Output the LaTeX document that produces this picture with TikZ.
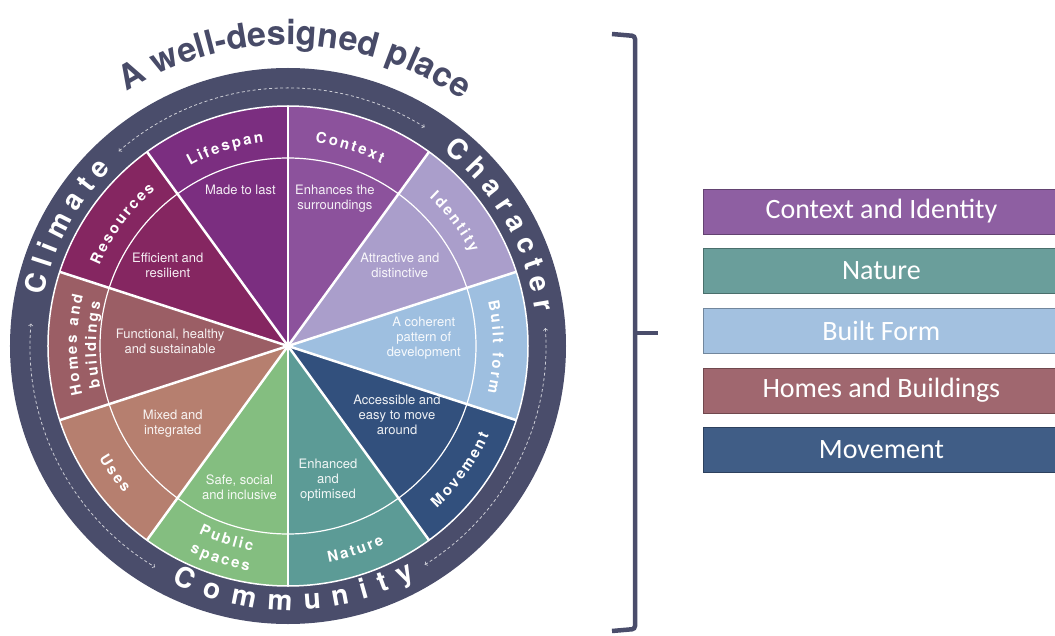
\documentclass[tikz,border=0pt]{standalone}
\usepackage{fontspec}
\setmainfont{TeX Gyre Heros}
\newfontfamily\legendfont{Carlito}
\usetikzlibrary{arrows,decorations.text}

\definecolor{ringc}{RGB}{74,77,107}
\definecolor{titlec}{RGB}{72,75,104}
\definecolor{lifespanc}{RGB}{123,46,128}
\definecolor{contextc}{RGB}{140,82,156}
\definecolor{identityc}{RGB}{170,158,203}
\definecolor{builtc}{RGB}{158,191,224}
\definecolor{movementc}{RGB}{50,80,125}
\definecolor{naturec}{RGB}{92,155,150}
\definecolor{publicc}{RGB}{132,190,128}
\definecolor{usesc}{RGB}{182,127,111}
\definecolor{homesc}{RGB}{155,94,101}
\definecolor{resourcesc}{RGB}{133,38,97}
\definecolor{ctxleg}{RGB}{142,95,162}
\definecolor{natleg}{RGB}{106,158,155}
\definecolor{bltleg}{RGB}{163,193,224}
\definecolor{homleg}{RGB}{160,103,111}
\definecolor{movleg}{RGB}{64,93,134}

\newcommand{\titletxt}{\fontsize{34}{34}\selectfont\bfseries}
\newcommand{\ringtxt}{\fontsize{28}{28}\selectfont\bfseries\kern7.5pt}
\newcommand{\commtxt}{\fontsize{28}{28}\selectfont\bfseries\kern12.5pt}
\newcommand{\lbltxt}{\fontsize{15}{15}\selectfont\bfseries\kern2.3pt}

\begin{document}
\begin{tikzpicture}[x=1pt,y=1pt,
  spoke/.style={draw=white,line width=2.5pt},
  desc/.style={text=white,text opacity=0.92,align=center,inner sep=0pt,font=\fontsize{13}{15}\selectfont},
  legbox/.style={anchor=west,minimum width=356pt,minimum height=45pt,inner sep=0pt,fill=#1,draw=#1!70!black,line width=0.8pt,text=white,font=\legendfont\fontsize{28}{28}\selectfont},
  ringarrow/.style={<->,>=to,dash pattern=on 3pt off 2.5pt,draw=white!72!ringc,line width=0.8pt},
  curved/.style={decorate,decoration={text along path,text align=center,text color=#1}},
  brace/.style={draw=ringc,line width=4.5pt,rounded corners=3pt}]
\clip (-288,-289) rectangle (767,346);

\fill[ringc] (0,0) circle[radius=278];

\fill[contextc] (0,0) -- (54:240) arc[start angle=54, end angle=90, radius=240] -- cycle;
\fill[lifespanc] (0,0) -- (90:240) arc[start angle=90, end angle=126, radius=240] -- cycle;
\fill[resourcesc] (0,0) -- (126:240) arc[start angle=126, end angle=162, radius=240] -- cycle;
\fill[homesc] (0,0) -- (162:240) arc[start angle=162, end angle=198, radius=240] -- cycle;
\fill[usesc] (0,0) -- (198:240) arc[start angle=198, end angle=234, radius=240] -- cycle;
\fill[publicc] (0,0) -- (234:240) arc[start angle=234, end angle=270, radius=240] -- cycle;
\fill[naturec] (0,0) -- (270:240) arc[start angle=270, end angle=306, radius=240] -- cycle;
\fill[movementc] (0,0) -- (306:240) arc[start angle=306, end angle=342, radius=240] -- cycle;
\fill[builtc] (0,0) -- (-18:240) arc[start angle=-18, end angle=18, radius=240] -- cycle;
\fill[identityc] (0,0) -- (18:240) arc[start angle=18, end angle=54, radius=240] -- cycle;

\draw[white,line width=1.5pt] (0,0) circle[radius=240];
\draw[white,line width=1.2pt] (0,0) circle[radius=188];
\draw[spoke] (0,0) -- (18:240);
\draw[spoke] (0,0) -- (54:240);
\draw[spoke] (0,0) -- (90:240);
\draw[spoke] (0,0) -- (126:240);
\draw[spoke] (0,0) -- (162:240);
\draw[spoke] (0,0) -- (198:240);
\draw[spoke] (0,0) -- (234:240);
\draw[spoke] (0,0) -- (270:240);
\draw[spoke] (0,0) -- (306:240);
\draw[spoke] (0,0) -- (342:240);

\path[curved=titlec,decoration={text={|\titletxt|A well-designed place}}] (160:301) arc[start angle=160, end angle=17, radius=301];
\path[curved=white,decoration={text={|\ringtxt|Climate}}] (200:250) arc[start angle=200, end angle=105, radius=250];
\path[curved=white,decoration={text={|\ringtxt|Character}}] (80:250) arc[start angle=80, end angle=-19, radius=250];
\path[curved=white,decoration={text={|\commtxt|Community}}] (220:264) arc[start angle=220, end angle=320, radius=264];

\draw[ringarrow] (131:258) arc[start angle=131, end angle=58, radius=258];
\draw[ringarrow] (4:258) arc[start angle=4, end angle=-58, radius=258];
\draw[ringarrow] (175:258) arc[start angle=175, end angle=239, radius=258];

\path[curved=white,decoration={text={|\lbltxt|Lifespan}}] (126:205) arc[start angle=126, end angle=90, radius=205];
\path[curved=white,decoration={text={|\lbltxt|Context}}] (91:205) arc[start angle=91, end angle=55, radius=205];
\path[curved=white,decoration={text={|\lbltxt|Identity}}] (55:205) arc[start angle=55, end angle=19, radius=205];
\path[curved=white,decoration={text={|\lbltxt|Built form}}] (18:205) arc[start angle=18, end angle=-18, radius=205];
\path[curved=white,decoration={text={|\lbltxt|Movement}}] (-54:220) arc[start angle=-54, end angle=-18, radius=220];
\path[curved=white,decoration={text={|\lbltxt|Nature}}] (270:220) arc[start angle=270, end angle=306, radius=220];
\path[curved=white,decoration={text={|\lbltxt|Public}}] (234:208) arc[start angle=234, end angle=270, radius=208];
\path[curved=white,decoration={text={|\lbltxt|spaces}}] (234:228) arc[start angle=234, end angle=270, radius=228];
\path[curved=white,decoration={text={|\lbltxt|Uses}}] (198:220) arc[start angle=198, end angle=234, radius=220];
\path[curved=white,decoration={text={|\lbltxt|Homes and}}] (198:211) arc[start angle=198, end angle=162, radius=211];
\path[curved=white,decoration={text={|\lbltxt|buildings}}] (198:192) arc[start angle=198, end angle=162, radius=192];
\path[curved=white,decoration={text={|\lbltxt|Resources}}] (162:205) arc[start angle=162, end angle=126, radius=205];

\node[desc] (made) at (107:163) {Made to last};
\node[desc] (enh) at (72.4:155) {Enhances the\\surroundings};
\node[desc] (attr) at (35.9:138) {Attractive and\\distinctive};
\node[desc] (coh) at (3.4:136) {A coherent\\pattern of\\development};
\node[desc] (acc) at (-32.3:129) {Accessible and\\easy to move\\around};
\node[desc] (opt) at (-73.4:140) {Enhanced\\and\\optimised};
\node[desc] (safe) at (251:149) {Safe, social\\and inclusive};
\node[desc] (mix) at (214:139) {Mixed and\\integrated};
\node[desc] (func) at (177.6:118) {Functional, healthy\\and sustainable};
\node[desc] (eff) at (146:145) {Efficient and\\resilient};

\draw[brace] (324,312) -- (347,310) -- (347,-283) -- (324,-285);
\draw[draw=ringc,line width=4.5pt] (347,13) -- (370,13);

\node[legbox=ctxleg] (ctx) at (415,134.5) {Context and Identity};
\node[legbox=natleg] (nat) at (415,75) {Nature};
\node[legbox=bltleg] (blt) at (415,15) {Built Form};
\node[legbox=homleg] (hom) at (415,-44.5) {Homes and Buildings};
\node[legbox=movleg] (mov) at (415,-103.5) {Movement};
\end{tikzpicture}
\end{document}
